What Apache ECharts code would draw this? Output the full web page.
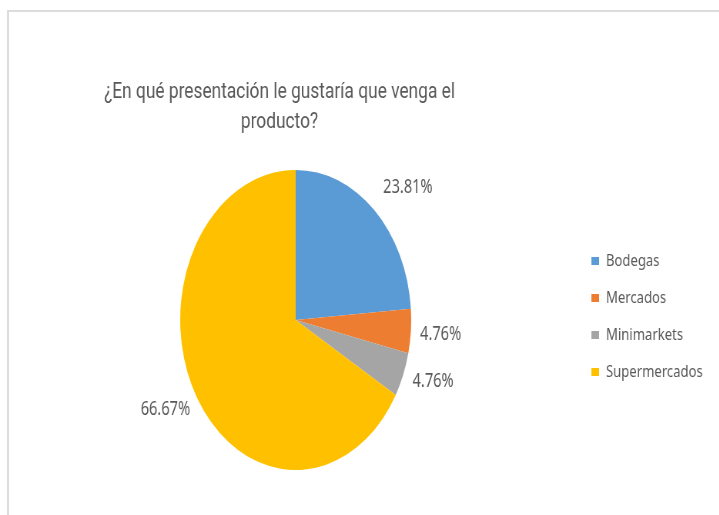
<!DOCTYPE html>
<html>
<head>
<meta charset="utf-8">
<script src="https://cdn.jsdelivr.net/npm/echarts@6/dist/echarts.min.js"></script>
<style>
  html, body { margin: 0; padding: 0; background: #ffffff; }
  #page { position: relative; width: 719px; height: 515px; overflow: hidden; background: #ffffff; }
  #frame { position: absolute; left: 7px; top: 10px; width: 760px; height: 560px;
           border-left: 2px solid #dcdcdc; border-top: 2px solid #dcdcdc; }
  /* the chart is laid out wide and then condensed horizontally */
  #chart { position: absolute; left: 0; top: 0; width: 934px; height: 515px;
           transform: scaleX(0.77); transform-origin: 0 0; }
</style>
</head>
<body>
<div id="page">
  <div id="frame"></div>
  <div id="chart"></div>
</div>
<script>
// Survey answers, share of respondents (%)
const titleText = '¿En qué presentación le gustaría que venga el\nproducto?';
const categories = ['Bodegas', 'Mercados', 'Minimarkets', 'Supermercados'];
const shares = [23.81, 4.76, 4.76, 66.67];
const colors = ['#5b9bd5', '#ed7d31', '#a5a5a5', '#ffc000'];

// small nudges for the outside labels, [dx, dy] per slice
const labelNudge = [[0, -12], [-4, 2], [-3, 2], [7, 8]];

const chart = echarts.init(document.getElementById('chart'), null, { renderer: 'canvas' });
const fontFamily = '"Noto Sans", "Open Sans", sans-serif';

chart.setOption({
  animation: false,
  color: colors,
  title: {
    text: titleText,
    left: 358,
    top: 72,
    textAlign: 'center',
    textStyle: {
      fontFamily: 'Roboto, "Noto Sans", sans-serif',
      fontSize: 22.5,
      fontWeight: 'normal',
      color: '#595959',
      lineHeight: 30
    }
  },
  legend: {
    orient: 'vertical',
    left: 763,
    top: 247,
    itemWidth: 10,
    itemHeight: 8,
    itemGap: 19,
    icon: 'rect',
    data: categories,
    textStyle: {
      fontFamily: fontFamily,
      fontSize: 17,
      color: '#595959',
      lineHeight: 18,
      padding: [0, 0, 0, 4]
    }
  },
  series: [{
    type: 'pie',
    center: [384, 320],
    radius: 150,
    startAngle: 90,
    clockwise: true,
    avoidLabelOverlap: false,
    data: categories.map((name, i) => ({ name: name, value: shares[i] })),
    itemStyle: { borderWidth: 0 },
    label: {
      show: true,
      position: 'outside',
      formatter: (p) => p.value.toFixed(2) + '%',
      fontFamily: fontFamily,
      fontSize: 19,
      color: '#595959',
      distanceToLabelLine: 2
    },
    labelLine: { show: false, length: 14, length2: 0 },
    labelLayout: (params) => ({
      dx: labelNudge[params.dataIndex][0],
      dy: labelNudge[params.dataIndex][1]
    }),
    emphasis: { disabled: true }
  }]
});
</script>
</body>
</html>
